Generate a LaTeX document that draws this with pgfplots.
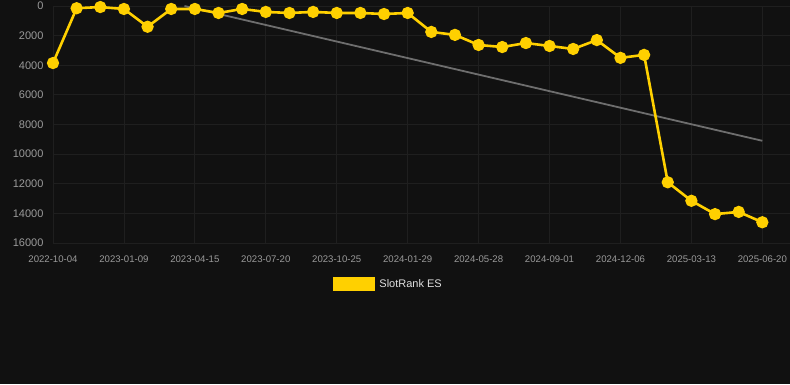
\documentclass[border=0pt]{standalone}
\usepackage{pgfplots}
\pgfplotsset{compat=1.18}
\usepackage{fontspec}
\setmainfont{Liberation Sans}
\definecolor{bg}{HTML}{111111}
\definecolor{gridc}{HTML}{1F1F1F}
\definecolor{ticklab}{HTML}{9A9A9A}
\definecolor{ylw}{HTML}{FFD000}
\definecolor{trend}{HTML}{6E6E6E}
\begin{document}
\begin{tikzpicture}[x=1pt,y=1pt]
\fill[bg] (0,0) rectangle (790,384);
\useasboundingbox (0,0) rectangle (790,384);
\begin{axis}[
  at={(53pt,141pt)}, anchor=south west,
  scale only axis, width=737pt, height=237pt,
  xmin=0, xmax=31.17, ymin=0, ymax=16000, y dir=reverse,
  clip=false, scaled ticks=false,
  axis line style={draw=none},
  x axis line style={draw=gridc!150!white},
  xtick={0,3,...,30},
  xticklabels={2022-10-04,2023-01-09,2023-04-15,2023-07-20,2023-10-25,2024-01-29,2024-05-28,2024-09-01,2024-12-06,2025-03-13,2025-06-20},
  ytick={0,2000,...,16000},
  yticklabels={0,2000,4000,6000,8000,10000,12000,14000,16000},
  grid=major, major grid style={draw=gridc, line width=0.8pt},
  tick style={draw=none},
  xticklabel style={font=\fontsize{9.6}{10}\selectfont, text=ticklab, yshift=-9pt},
  yticklabel style={font=\fontsize{11}{12}\selectfont, text=ticklab, xshift=-6pt},
  legend style={at={(axis description cs:0.455,-0.173)}, anchor=center, draw=none, fill=none, font=\fontsize{11}{12}\selectfont, text=white!88!black},
  legend image code/.code={\fill[ylw] (0pt,-6pt) rectangle (40pt,6pt); \path (42pt,0pt);},
  legend cell align=left,
]
\addplot[trend, line width=1.8pt, forget plot] coordinates {(5.56,0) (30,9100)};
\addplot[ylw, line width=2.6pt, mark=*, mark size=4.8pt, mark options={fill=ylw, draw=ylw}] coordinates {
(0,3850) (1,150) (2,70) (3,200) (4,1400) (5,200) (6,200) (7,470) (8,200) (9,400)
(10,470) (11,400) (12,470) (13,470) (14,540) (15,470) (16,1750) (17,1950) (18,2630) (19,2770)
(20,2500) (21,2700) (22,2900) (23,2300) (24,3500) (25,3300) (26,11900) (27,13150) (28,14050) (29,13900)
(30,14600)};
\addlegendentry{SlotRank ES}
\end{axis}
\end{tikzpicture}
\end{document}
